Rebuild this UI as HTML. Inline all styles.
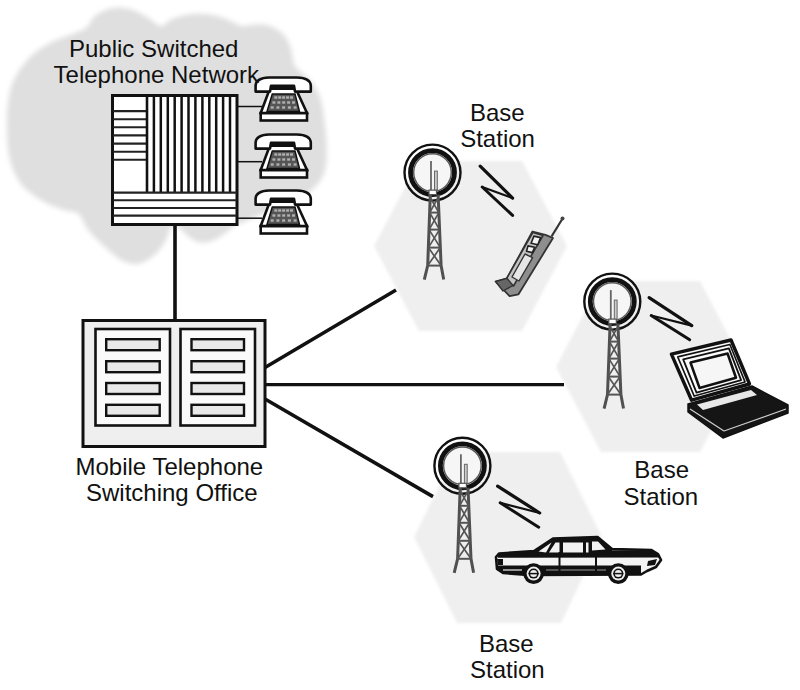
<!DOCTYPE html>
<html><head><meta charset="utf-8">
<style>
html,body{margin:0;padding:0;background:#fff;}
svg{display:block;}
text{font-family:"Liberation Sans",sans-serif;font-size:24px;fill:#111;}
</style></head>
<body>
<svg width="800" height="690" viewBox="0 0 800 690">
<defs>
  <filter id="soft" x="-10%" y="-10%" width="120%" height="120%"><feGaussianBlur stdDeviation="1.8"/></filter>
  <filter id="soft3" x="-10%" y="-10%" width="120%" height="120%"><feGaussianBlur stdDeviation="2.8"/></filter>
  <g id="tower">
<circle cx="0" cy="0" r="28" fill="none" stroke="#111" stroke-width="2.4"/>
<circle cx="0" cy="0" r="22" fill="#f6f6f6" stroke="#111" stroke-width="4.8"/>
<circle cx="0" cy="0" r="18.8" fill="none" stroke="#555" stroke-width="1.4"/>
<line x1="-1.5" y1="-11.5" x2="-1.5" y2="18" stroke="#666" stroke-width="1.8"/>
<rect x="2" y="-1.5" width="2.8" height="19.5" fill="#ccc" stroke="#666" stroke-width="1"/>
<polyline points="-2.2,22 -4.8,93 -8.2,107" fill="none" stroke="#505050" stroke-width="3"/>
<polyline points="5.6,22 8.6,93 11.2,107" fill="none" stroke="#505050" stroke-width="3"/>
<line x1="-2.8" y1="40" x2="6.3" y2="40" stroke="#555" stroke-width="2"/>
<line x1="-3.4" y1="57" x2="7.0" y2="57" stroke="#555" stroke-width="2"/>
<line x1="-4.1" y1="75" x2="7.8" y2="75" stroke="#555" stroke-width="2"/>
<line x1="-4.8" y1="93" x2="8.6" y2="93" stroke="#555" stroke-width="2"/>
<line x1="-2.2" y1="25" x2="6.3" y2="40" stroke="#555" stroke-width="1.7"/>
<line x1="5.6" y1="25" x2="-2.8" y2="40" stroke="#555" stroke-width="1.7"/>
<line x1="-2.8" y1="40" x2="7.0" y2="57" stroke="#555" stroke-width="1.7"/>
<line x1="6.3" y1="40" x2="-3.4" y2="57" stroke="#555" stroke-width="1.7"/>
<line x1="-3.4" y1="57" x2="7.8" y2="75" stroke="#555" stroke-width="1.7"/>
<line x1="7.0" y1="57" x2="-4.1" y2="75" stroke="#555" stroke-width="1.7"/>
<line x1="-4.1" y1="75" x2="8.6" y2="93" stroke="#555" stroke-width="1.7"/>
<line x1="7.8" y1="75" x2="-4.8" y2="93" stroke="#555" stroke-width="1.7"/>
<rect x="-3.5" y="17.5" width="7.5" height="4.5" fill="#fff" stroke="#555" stroke-width="1.2"/>
</g>
  <g id="phone">
<rect x="5.7" y="36" width="46.3" height="7.5" fill="#fff" stroke="#111" stroke-width="2.6"/>
<polygon points="14.8,11.7 40.8,11.7 52,36 5.7,36" fill="#fff" stroke="#111" stroke-width="2.6"/>
<polygon points="17.3,17 40,17 44.5,34.4 12,34.4" fill="#555" stroke="#111" stroke-width="1.5"/>
<rect x="19.3" y="19.3" width="3" height="2.4" fill="#b0b0b0"/><rect x="23.2" y="19.3" width="3" height="2.4" fill="#b0b0b0"/><rect x="27.1" y="19.3" width="3" height="2.4" fill="#b0b0b0"/><rect x="31.1" y="19.3" width="3" height="2.4" fill="#b0b0b0"/><rect x="35.0" y="19.3" width="3" height="2.4" fill="#b0b0b0"/><rect x="17.4" y="24.3" width="3" height="2.4" fill="#b0b0b0"/><rect x="22.4" y="24.3" width="3" height="2.4" fill="#b0b0b0"/><rect x="27.2" y="24.3" width="3" height="2.4" fill="#b0b0b0"/><rect x="32.1" y="24.3" width="3" height="2.4" fill="#b0b0b0"/><rect x="37.0" y="24.3" width="3" height="2.4" fill="#b0b0b0"/><rect x="15.7" y="29.3" width="3" height="2.4" fill="#b0b0b0"/><rect x="21.4" y="29.3" width="3" height="2.4" fill="#b0b0b0"/><rect x="27.1" y="29.3" width="3" height="2.4" fill="#b0b0b0"/><rect x="32.9" y="29.3" width="3" height="2.4" fill="#b0b0b0"/><rect x="38.6" y="29.3" width="3" height="2.4" fill="#b0b0b0"/>
<path d="M0.6,14.6 L0.6,8.5 C1,3.5 6,0.8 14,0.5 L42,0.5 C50,0.8 55.5,3.5 55.8,8.5 L55.8,14.6 L40,14.6 L39,8.8 L16,8.8 L15,14.6 Z" fill="#fff" stroke="#111" stroke-width="2.6" stroke-linejoin="round"/>
<rect x="15.5" y="8" width="24.5" height="3.8" fill="#111"/>
</g>
<path d="M0.8,13.8 L0.8,8 C2,3 8,0 17,-0.3 L44,0.3 C51,1 56,3.5 56.3,7.5 L56.3,13.6 L42.7,14 L40,9.2 L18,9.2 L15.2,13.8 Z" fill="#fff" stroke="#111" stroke-width="2.6" stroke-linejoin="round"/>
  </g>
  <polyline id="bolt" points="0,0 0,0" />
</defs>
<!-- cloud -->
<path d="M7,132 C6.7,122.5 6.9,111.5 8,103 C9.1,94.5 10.0,88.5 13.5,81 C17.0,73.5 22.9,64.3 29,58 C35.1,51.7 43.2,46.8 50,43 C56.8,39.2 64.0,37.5 70,35 C76.0,32.5 81.8,31.2 86,28 C90.2,24.8 90.7,19.3 95,16 C99.3,12.7 106.2,9.2 112,8 C117.8,6.8 124.2,7.5 130,9 C135.8,10.5 141.8,14.2 147,17 C152.2,19.8 156.8,25.7 161,26 C165.2,26.3 166.7,21.0 172,19 C177.3,17.0 185.5,14.5 193,14 C200.5,13.5 210.0,14.5 217,16 C224.0,17.5 230.8,21.3 235,23 C239.2,24.7 238.5,25.8 242,26 C245.5,26.2 251.3,24.5 256,24.5 C260.7,24.5 265.3,24.2 270,26 C274.7,27.8 280.5,31.2 284,35 C287.5,38.8 289.2,43.8 291,49 C292.8,54.2 292.0,61.0 295,66 C298.0,71.0 304.8,73.8 309,79 C313.2,84.2 317.5,90.5 320,97 C322.5,103.5 322.9,110.2 324,118 C325.1,125.8 326.3,135.3 326.5,144 C326.7,152.7 327.1,162.7 325,170 C322.9,177.3 319.8,182.5 314,188 C308.2,193.5 298.7,198.7 290,203 C281.3,207.3 269.7,210.8 262,214 C254.3,217.2 248.3,220.2 244,222 C239.7,223.8 238.8,222.8 236,224.5 C233.2,226.2 230.5,229.5 227,232 C223.5,234.5 219.0,237.8 215,239.5 C211.0,241.2 206.8,242.5 203,242.5 C199.2,242.5 196.5,242.0 192.5,239.5 C188.5,237.0 181.9,229.8 179,227.5 C176.1,225.2 176.5,225.8 175,226 C173.5,226.2 171.6,226.5 170,229 C168.4,231.5 168.0,236.8 165.5,241 C163.0,245.2 159.2,250.8 155,254.5 C150.8,258.2 145.0,262.2 140,263.5 C135.0,264.8 129.9,263.9 125,262 C120.1,260.1 116.5,257.2 110.5,252 C104.5,246.8 94.3,237.3 89,231 C83.7,224.7 82.8,217.5 78.6,214 C74.4,210.5 69.8,212.2 63.75,210 C57.7,207.8 49.6,205.3 42.5,201 C35.4,196.7 26.4,190.8 21,184 C15.6,177.2 12.3,168.7 10,160 C7.7,151.3 7.3,141.5 7,132 Z" fill="#dfdfdf" filter="url(#soft3)"/>
<!-- hexagons -->
<g fill="#efefef" filter="url(#soft)">
  <polygon points="374,246 419,161 522,161 567,246 522,331 419,331"/>
  <polygon points="556,367 601,281 700,281 745,367 700,452 601,452"/>
  <polygon points="414,537 456,452 560,452 602,537 561,623 457,623"/>
</g>
<!-- connector lines -->
<g stroke="#111" stroke-linecap="butt">
  <line x1="175" y1="224" x2="175" y2="320" stroke-width="3.6"/>
  <line x1="265" y1="367.5" x2="396" y2="290" stroke-width="3.6"/>
  <line x1="265" y1="384.7" x2="564" y2="384.7" stroke-width="3.2"/>
  <line x1="265" y1="399" x2="433" y2="496.6" stroke-width="3.6"/>
  <line x1="237" y1="106.5" x2="262" y2="106.5" stroke-width="1.5"/>
  <line x1="237" y1="161.7" x2="262" y2="161.7" stroke-width="1.5"/>
  <line x1="237" y1="218.2" x2="262" y2="218.2" stroke-width="1.5"/>
</g>
<!-- PSTN switch -->
<rect x="112.5" y="95.5" width="124.5" height="129" fill="#fff" stroke="#111" stroke-width="3"/>
<line x1="113" y1="111.1" x2="147" y2="111.1" stroke="#222" stroke-width="2.1"/>
<line x1="113" y1="119.2" x2="147" y2="119.2" stroke="#222" stroke-width="2.1"/>
<line x1="113" y1="127.3" x2="147" y2="127.3" stroke="#222" stroke-width="2.1"/>
<line x1="113" y1="135.4" x2="147" y2="135.4" stroke="#222" stroke-width="2.1"/>
<line x1="113" y1="143.6" x2="147" y2="143.6" stroke="#222" stroke-width="2.1"/>
<line x1="113" y1="151.7" x2="147" y2="151.7" stroke="#222" stroke-width="2.1"/>
<line x1="113" y1="159.8" x2="147" y2="159.8" stroke="#222" stroke-width="2.1"/>
<line x1="147.0" y1="96" x2="147.0" y2="193" stroke="#111" stroke-width="2.6"/>
<line x1="153.9" y1="96" x2="153.9" y2="193" stroke="#111" stroke-width="2.5"/>
<line x1="160.8" y1="96" x2="160.8" y2="193" stroke="#111" stroke-width="2.5"/>
<line x1="167.8" y1="96" x2="167.8" y2="193" stroke="#111" stroke-width="2.5"/>
<line x1="174.7" y1="96" x2="174.7" y2="193" stroke="#111" stroke-width="2.5"/>
<line x1="181.6" y1="96" x2="181.6" y2="193" stroke="#111" stroke-width="2.5"/>
<line x1="188.5" y1="96" x2="188.5" y2="193" stroke="#111" stroke-width="2.5"/>
<line x1="195.4" y1="96" x2="195.4" y2="193" stroke="#111" stroke-width="2.5"/>
<line x1="202.4" y1="96" x2="202.4" y2="193" stroke="#111" stroke-width="2.5"/>
<line x1="209.3" y1="96" x2="209.3" y2="193" stroke="#111" stroke-width="2.5"/>
<line x1="216.2" y1="96" x2="216.2" y2="193" stroke="#111" stroke-width="2.5"/>
<line x1="223.1" y1="96" x2="223.1" y2="193" stroke="#111" stroke-width="2.5"/>
<line x1="230.0" y1="96" x2="230.0" y2="193" stroke="#111" stroke-width="2.5"/>
<line x1="113" y1="192.7" x2="237" y2="192.7" stroke="#222" stroke-width="2.2"/>
<line x1="113" y1="200.2" x2="237" y2="200.2" stroke="#222" stroke-width="2.1"/>
<line x1="113" y1="208" x2="237" y2="208" stroke="#222" stroke-width="2.1"/>
<line x1="113" y1="215.6" x2="237" y2="215.6" stroke="#222" stroke-width="2.1"/>
<!-- phones -->
<use href="#phone" x="255" y="77"/>
<use href="#phone" x="255" y="134"/>
<use href="#phone" x="255" y="190"/>
<!-- MTSO -->
<rect x="83" y="320.5" width="182" height="126" fill="#efefef" stroke="#111" stroke-width="3"/>
<rect x="95.5" y="329" width="74.5" height="96.5" fill="#fafafa" stroke="#111" stroke-width="2.6"/>
<rect x="180.5" y="329" width="74.5" height="96.5" fill="#fafafa" stroke="#111" stroke-width="2.6"/>
<g fill="#e8e8e8" stroke="#111" stroke-width="2.4">
  <rect x="106.2" y="339.2" width="53.5" height="11"/>
  <rect x="106.2" y="361.2" width="53.5" height="11"/>
  <rect x="106.2" y="383" width="53.5" height="11"/>
  <rect x="106.2" y="404.8" width="53.5" height="11"/>
  <rect x="191.5" y="339.2" width="52.5" height="11"/>
  <rect x="191.5" y="361.2" width="52.5" height="11"/>
  <rect x="191.5" y="383" width="52.5" height="11"/>
  <rect x="191.5" y="404.8" width="52.5" height="11"/>
</g>
<!-- towers -->
<use href="#tower" x="432.5" y="172.6"/>
<use href="#tower" x="612.3" y="301.6"/>
<use href="#tower" x="462.4" y="465.8"/>
<!-- bolts -->
<g fill="none" stroke="#111" stroke-linecap="round">
<line x1="480.2" y1="166.2" x2="512.6" y2="198.1" stroke-width="3.2"/>
<line x1="512.6" y1="198.1" x2="482.2" y2="187" stroke-width="2.2"/>
<line x1="482.2" y1="187" x2="512.6" y2="215.4" stroke-width="3"/>
<line x1="649.1" y1="297.7" x2="691.8" y2="325.6" stroke-width="3.2"/>
<line x1="691.8" y1="325.6" x2="651.2" y2="315.5" stroke-width="2.2"/>
<line x1="651.2" y1="315.5" x2="689.7" y2="339.8" stroke-width="3"/>
<line x1="497.6" y1="486.1" x2="539.7" y2="513" stroke-width="3.2"/>
<line x1="539.7" y1="513" x2="500.2" y2="502.8" stroke-width="2.2"/>
<line x1="500.2" y1="502.8" x2="538.7" y2="527.2" stroke-width="3"/>
</g>
<!-- cell phone -->
<g stroke-linejoin="round">
  <line x1="551.5" y1="236.5" x2="562.3" y2="219" stroke="#333" stroke-width="2.2"/>
  <circle cx="562.5" cy="218.6" r="2" fill="#444"/>
  <polygon points="532.5,231.5 545.5,234.8 553,238 518.5,294.3 509.6,296.2 495.6,281.5 507,278.3" fill="#8e8e8e" stroke="#333" stroke-width="1.8"/>
  <polygon points="532.8,232.5 543,235.5 513.5,286 505.5,280.5" fill="#c4c4c4" stroke="#333" stroke-width="1.6"/>
  <polygon points="533.9,236.1 540.6,237.6 537.8,244.8 531.1,243.3" fill="#f4f4f4" stroke="#222" stroke-width="1.6"/>
  <polygon points="528,245.9 534.6,247.3 532.4,252.6 526.5,251.2" fill="#f4f4f4" stroke="#222" stroke-width="1.6"/>
  <polygon points="525,254 532.6,257.6 519,281 512,277" fill="#e6e6e6" stroke="#333" stroke-width="1.4"/>
  <polygon points="495.6,281.5 507,278.3 513,285.5 503,291" fill="#666" stroke="#333" stroke-width="1.4"/>
</g>
<!-- laptop -->
<g stroke-linejoin="round">
  <polygon points="688,404 752,386 788,405 788,413 723,438 688,412" fill="#151515" stroke="#111" stroke-width="1.5"/>
  <polygon points="697,404.5 751,390 757,395 703,410" fill="#e8e8e8"/>
  <polyline points="690,409 724,431 786,409" fill="none" stroke="#cfcfcf" stroke-width="1.2"/>
  <polygon points="671.4,354.1 731,340 749.5,384 691.6,400.2" fill="#fafafa" stroke="#111" stroke-width="3.4"/>
  <polygon points="677.7,356.9 729.9,344.5 745.0,381.9 694.2,396.1" fill="none" stroke="#111" stroke-width="1.6"/>
  <polygon points="683.2,359.4 728.9,348.4 741.1,380.1 696.5,392.6" fill="none" stroke="#111" stroke-width="1.8"/>
  <polygon points="690.5,362.6 727.6,353.6 736,377.7 699.5,387.9" fill="#f6f6f6" stroke="#111" stroke-width="2.6"/>
</g>
<!-- car -->
<g stroke-linejoin="round">
  <polygon points="496,557 499,553.5 534,551 553,538.5 597.5,537 612,549 651.5,550 658,554 661,560 656,567 647,571 641,574.5 528,575 503,573 497,569" fill="#f4f4f4" stroke="#111" stroke-width="2.6"/>
  <polygon points="534,551 553,538.5 597.5,537 612,549 612,553 534,553.5" fill="#111"/>
  <polygon points="498,553.8 534,551 651.5,550 658,554 659.5,557.5 498,557.8" fill="#111"/>
  <polygon points="538.5,551.5 551.5,542.5 546,552.5" fill="#f2f2f2"/>
  <polygon points="549,552.5 555.5,542.5 559.5,542.5 559.5,552.5" fill="#f2f2f2"/>
  <polygon points="563,542.5 583,542.5 583,552.5 563,552.5" fill="#f2f2f2"/>
  <polygon points="586,542.5 588.5,542.5 588.5,552.5 586,552.5" fill="#f2f2f2"/>
  <polygon points="592,541.5 598,541.5 605.5,549.5 592,550.5" fill="#f2f2f2"/>
  <polygon points="497,565.5 641,565.5 641,574.5 528,575 503,573 497,569" fill="#111"/>
  <line x1="503" y1="570" x2="522" y2="570" stroke="#ddd" stroke-width="1.3"/>
  <line x1="546" y1="570" x2="606" y2="570" stroke="#999" stroke-width="1"/>
  <polygon points="648,561 657,559 655,565 647,566" fill="#111"/>
  <polygon points="497,559 503,559 503,565 498,565" fill="#111"/>
  <line x1="559.5" y1="552" x2="559.5" y2="574" stroke="#111" stroke-width="2"/>
  <line x1="596" y1="552" x2="596" y2="574" stroke="#111" stroke-width="2"/>
  <circle cx="533.6" cy="573.6" r="10.4" fill="#111"/>
  <circle cx="533.6" cy="573.6" r="7" fill="#eee"/><circle cx="533.6" cy="573.6" r="5" fill="#111"/><circle cx="533.6" cy="573.6" r="3.5" fill="#eee"/>
  <line x1="528.5" y1="573.6" x2="538.7" y2="573.6" stroke="#111" stroke-width="1.5"/>
  <circle cx="618.3" cy="573.6" r="10.4" fill="#111"/>
  <circle cx="618.3" cy="573.6" r="7" fill="#eee"/><circle cx="618.3" cy="573.6" r="5" fill="#111"/><circle cx="618.3" cy="573.6" r="3.5" fill="#eee"/>
  <line x1="613.2" y1="573.6" x2="623.4" y2="573.6" stroke="#111" stroke-width="1.5"/>
</g>
<!-- text -->
<text x="69" y="56.7">Public Switched</text>
<text x="53.6" y="82.8">Telephone Network</text>
<text x="470" y="120.6">Base</text>
<text x="460.2" y="147">Station</text>
<text x="634.3" y="477.5">Base</text>
<text x="623.5" y="505">Station</text>
<text x="479" y="651.5">Base</text>
<text x="470" y="678">Station</text>
<text x="75.5" y="475">Mobile Telephone</text>
<text x="86" y="501">Switching Office</text>
</svg>
</body></html>
